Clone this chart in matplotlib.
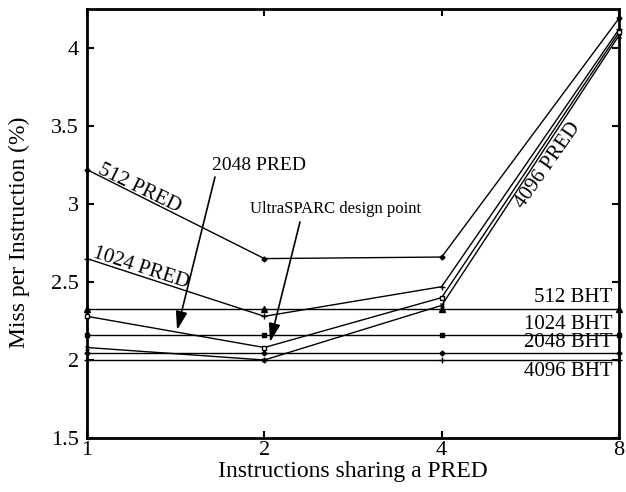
import matplotlib
matplotlib.use("Agg")
import matplotlib.pyplot as plt
import matplotlib.ticker as mticker
import matplotlib.transforms as mtransforms

plt.rcParams['font.family'] = ['Liberation Serif', 'DejaVu Serif']

# Instructions sharing one PRED entry
sharing = [1, 2, 4, 8]

# Miss rate (%) of the PRED configurations
pred_512 = [3.22, 2.65, 2.66, 4.19]
pred_1024 = [2.65, 2.28, 2.47, 4.12]
pred_2048 = [2.28, 2.08, 2.40, 4.10]
pred_4096 = [2.08, 2.00, 2.35, 4.08]

# Miss rate (%) of the BHT configurations (independent of sharing)
bht_512 = [2.33, 2.33, 2.33, 2.33]
bht_1024 = [2.16, 2.16, 2.16, 2.16]
bht_2048 = [2.045, 2.045, 2.045, 2.045]
bht_4096 = [2.00, 2.00, 2.00, 2.00]

x_ticks = [1, 2, 4, 8]
y_ticks = [1.5, 2, 2.5, 3, 3.5, 4]
y_ticklabels = ['1.5', '2', '2.5', '3', '3.5', '4']

fig = plt.figure(figsize=(6.26, 4.92), dpi=100)
ax = fig.add_axes([87 / 626, 1 - 438 / 492, (619 - 87) / 626, (438 - 9) / 492])

ax.set_xscale('log', base=2)
ax.set_xlim(1, 8)
ax.set_ylim(1.5, 4.25)

line_kw = dict(color='black', lw=1.0, clip_on=False, zorder=3)
ax.plot(sharing, pred_512, marker='D', ms=2.5, **line_kw)
ax.plot(sharing, pred_1024, marker='+', ms=5, mew=1.0, **line_kw)
ax.plot(sharing, pred_2048, marker='s', ms=3.5, mfc='white', mew=1.0, **line_kw)
ax.plot(sharing, pred_4096, marker='x', ms=3.5, mew=1.0, **line_kw)

ax.plot(sharing, bht_512, marker='^', ms=4, **line_kw)
ax.plot(sharing, bht_1024, marker='s', ms=3.5, **line_kw)
ax.plot(sharing, bht_2048, marker='D', ms=2.5, **line_kw)
ax.plot(sharing, bht_4096, marker='+', ms=5, mew=1.0, **line_kw)

ax.set_xticks(x_ticks)
ax.set_xticklabels([str(v) for v in x_ticks])
ax.set_yticks(y_ticks)
ax.set_yticklabels(y_ticklabels)
ax.xaxis.set_minor_locator(mticker.NullLocator())
ax.tick_params(axis='both', which='major', direction='in', length=5, width=1.5,
               labelsize=16, top=True, right=True)
ax.tick_params(axis='x', pad=2)
ax.tick_params(axis='y', pad=6)

for sp in ax.spines.values():
    sp.set_linewidth(2.0)

ax.set_xlabel('Instructions sharing a PRED', fontsize=17, labelpad=1)
ax.set_ylabel('Miss per Instruction (%)', fontsize=17)
ax.yaxis.set_label_coords(-0.108, 0.48)

fs = 15
# BHT labels at the right edge
trans = mtransforms.blended_transform_factory(ax.transAxes, ax.transData)
ax.text(0.988, bht_512[0] + 0.012, '512 BHT', transform=trans, ha='right', va='bottom', fontsize=fs)
ax.text(0.988, bht_1024[0] + 0.004, '1024 BHT', transform=trans, ha='right', va='bottom', fontsize=fs)
ax.text(0.988, bht_2048[0] + 0.004, '2048 BHT', transform=trans, ha='right', va='bottom', fontsize=fs)
ax.text(0.988, bht_4096[0] - 0.012, '4096 BHT', transform=trans, ha='right', va='top', fontsize=fs)

# PRED labels along their lines
ax.text(1.04, 3.20, '512 PRED', rotation=-26, rotation_mode='anchor',
        ha='left', va='baseline', fontsize=fs)
ax.text(1.02, 2.66, '1024 PRED', rotation=-18, rotation_mode='anchor',
        ha='left', va='baseline', fontsize=fs)
ax.text(5.5, 2.97, '4096 PRED', rotation=55, rotation_mode='anchor',
        ha='left', va='baseline', fontsize=fs)

# Callouts
arrow_kw = dict(arrowstyle='-|>,head_length=0.8,head_width=0.25', color='black',
                lw=1.2, mutation_scale=14, shrinkA=0, shrinkB=0)
ax.text(1.63, 3.22, '2048 PRED', fontsize=14, ha='left', va='baseline')
ax.annotate('', xy=(1.422, 2.192), xytext=(1.649, 3.173), arrowprops=arrow_kw)
ax.text(1.89, 2.94, 'UltraSPARC design point', fontsize=12, ha='left', va='baseline')
ax.annotate('', xy=(2.045, 2.115), xytext=(2.299, 2.885), arrowprops=arrow_kw)

fig.savefig('out.png', dpi=100)
